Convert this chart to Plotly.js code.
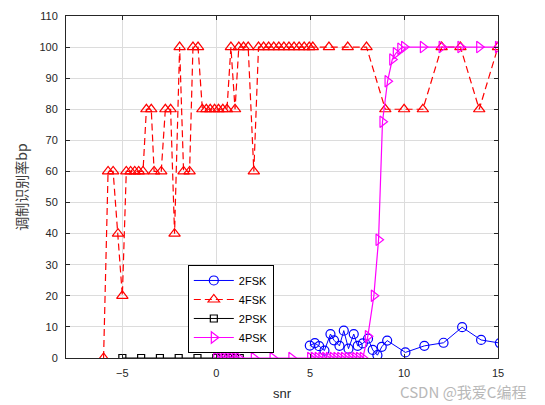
<!DOCTYPE html>
<html>
<head>
<meta charset="utf-8">
<script src="https://cdn.plot.ly/plotly-3.0.1.min.js"></script>
<style>html,body{margin:0;padding:0;background:#fff;}#chart{width:545px;height:405px;}</style>
</head>
<body>
<div id="chart"></div>
<script>
// 2FSK
const snr2FSK = [4.98, 5.25, 5.48, 5.76, 6.08, 6.27, 6.56, 6.79, 7.04, 7.32, 7.53, 7.8, 8.08, 8.33, 8.58, 8.81, 9.1, 10.07, 11.08, 12.1, 13.09, 14.1, 15.1];
const val2FSK = [4, 4.8, 3.8, 2.4, 7.7, 5.7, 3.9, 8.8, 3, 7.7, 3.9, 4.7, 6.2, 2.6, 0.9, 3.6, 5.6, 1.8, 3.9, 4.9, 9.9, 5.8, 4.8];

// 4FSK
const snr4FSK = [-6, -5.76, -5.49, -5.23, -5.0, -4.79, -4.56, -4.34, -4.13, -3.9, -3.72, -3.46, -3.31, -2.93, -2.71, -2.43, -2.22, -1.95, -1.74, -1.42, -1.24, -0.97, -0.74, -0.53, -0.32, -0.09, 0.12, 0.35, 0.57, 0.78, 1.0, 1.2, 1.45, 1.7, 2.0, 2.25, 2.52, 2.79, 3.06, 3.33, 3.6, 3.87, 4.14, 4.41, 4.68, 4.95, 5.14, 6, 7, 8, 9, 10, 11, 12, 13, 14, 15];
const val4FSK = [0, 60, 60, 40, 20, 60, 60, 60, 60, 60, 80, 80, 60, 60, 80, 80, 40, 100, 60, 60, 100, 100, 80, 80, 80, 80, 80, 80, 80, 100, 80, 100, 100, 100, 60, 100, 100, 100, 100, 100, 100, 100, 100, 100, 100, 100, 100, 100, 100, 100, 80, 80, 80, 100, 100, 80, 100];

// 2PSK
const snr2PSK = [-5, -4, -3, -2, -1, 0, 0.25, 0.5, 0.75, 1.0, 1.25];
const val2PSK = [0, 0, 0, 0, 0, 0, 0, 0, 0, 0, 0];

// 4PSK
const snr4PSK = [0, 0.2, 0.4, 0.6, 0.8, 1.0, 1.2, 2, 3, 4, 5, 5.2, 5.4, 5.6, 5.8, 6, 6.2, 6.4, 6.6, 6.8, 7, 7.2, 7.4, 7.6, 7.8, 8.07, 8.39, 8.64, 8.85, 9.12, 9.37, 9.56, 9.8, 10, 11, 12, 13, 14, 15];
const val4PSK = [0, 0, 0, 0, 0, 0, 0, 0, 0, 0, 0, 0, 0, 0, 0, 0, 0, 0, 0, 0, 0, 0, 0, 0, 0, 7, 20, 38, 76, 89, 96, 98, 99.5, 100, 100, 100, 100, 100, 100];

const xTicks = [-5, 0, 5, 10, 15];
const yTicks = [0, 10, 20, 30, 40, 50, 60, 70, 80, 90, 100, 110];

const traces = [
  {x: snr2FSK, y: val2FSK, name: '2FSK', mode: 'lines+markers', type: 'scatter',
   line: {color: '#0000ff', width: 1}, marker: {symbol: 'circle-open', size: 9, color: '#0000ff', line: {width: 1.2}}},
  {x: snr4FSK, y: val4FSK, name: '4FSK', mode: 'lines+markers', type: 'scatter',
   line: {color: '#ff0000', width: 1.2, dash: '7px,4px'}, marker: {symbol: 'triangle-up-open', size: 10, color: '#ff0000', line: {width: 1.2}}},
  {x: snr2PSK, y: val2PSK, name: '2PSK', mode: 'lines+markers', type: 'scatter',
   line: {color: '#000000', width: 1}, marker: {symbol: 'square-open', size: 7, color: '#000000', line: {width: 1.2}}},
  {x: snr4PSK, y: val4PSK, name: '4PSK', mode: 'lines+markers', type: 'scatter',
   line: {color: '#ff00ff', width: 1.2}, marker: {symbol: 'triangle-right-open', size: 10, color: '#ff00ff', line: {width: 1.2}}}
];

const layout = {
  width: 545, height: 405,
  margin: {l: 66, r: 47, t: 16, b: 47},
  paper_bgcolor: '#ffffff', plot_bgcolor: '#ffffff',
  font: {family: 'Liberation Sans, Arial, sans-serif', size: 11, color: '#262626'},
  showlegend: true,
  legend: {x: 0.282, y: 0.272, xanchor: 'left', yanchor: 'top', bgcolor: '#ffffff',
           bordercolor: '#000000', borderwidth: 1, font: {size: 11, color: '#000'}, tracegroupgap: 0, itemwidth: 40},
  xaxis: {range: [-8, 15], tickvals: xTicks, showgrid: true, gridcolor: '#dcdcdc', gridwidth: 1,
          zeroline: false, showline: true, linecolor: '#262626', linewidth: 1, mirror: 'ticks',
          ticks: 'inside', ticklen: 4, tickcolor: '#262626', ticklabelstandoff: 5,
          title: {text: 'snr', font: {size: 13, color: '#262626'}, standoff: 10}},
  yaxis: {range: [0, 110], tickvals: yTicks, showgrid: true, gridcolor: '#dcdcdc', gridwidth: 1,
          zeroline: false, showline: true, linecolor: '#262626', linewidth: 1, mirror: 'ticks',
          ticks: 'inside', ticklen: 4, tickcolor: '#262626', ticklabelstandoff: 5,
          title: {text: '调制识别率bp', font: {size: 14, family: 'Noto Sans CJK SC, sans-serif', color: '#404040'}, standoff: 8}},
  annotations: [
    {text: 'CSDN @我爱C编程', xref: 'paper', yref: 'paper', x: 1.069, y: -0.098, xanchor: 'right', yanchor: 'middle',
     showarrow: false, font: {size: 15, color: '#b8b8b8', family: 'Noto Sans CJK SC, sans-serif'}}
  ]
};

Plotly.newPlot('chart', traces, layout, {displayModeBar: false, staticPlot: true});
</script>
</body>
</html>
